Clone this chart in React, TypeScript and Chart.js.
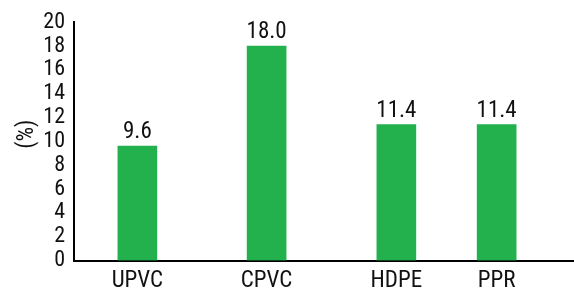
import React, { useEffect, useRef } from "react";
import { Chart, registerables } from "chart.js";

Chart.register(...registerables);

const categories = ["UPVC", "CPVC", "HDPE", "PPR"];
const values = [9.6, 18.0, 11.4, 11.4];
const valueLabels = ["9.6", "18.0", "11.4", "11.4"];
// horizontal placement of each category along the x axis (0..100)
const categoryPositions = [12.7, 38.6, 64.6, 84.7];
const yTicks = [0, 2, 4, 6, 8, 10, 12, 14, 16, 18, 20];
const yTitle = "(%)";

const FONT = "'Roboto Condensed', 'DejaVu Sans Condensed', sans-serif";
const GREEN = "#22b14c";

export default function App() {
  const ref = useRef<HTMLCanvasElement | null>(null);

  useEffect(() => {
    if (!ref.current) return;
    const labelPlugin = {
      id: "valueLabels",
      afterDatasetsDraw(chart: any) {
        const ctx = chart.ctx;
        const meta = chart.getDatasetMeta(0);
        ctx.save();
        ctx.font = `23px ${FONT}`;
        ctx.fillStyle = "#111";
        ctx.textAlign = "center";
        ctx.textBaseline = "alphabetic";
        meta.data.forEach((bar: any, i: number) => {
          ctx.fillText(valueLabels[i], bar.x, bar.y - 8);
        });
        ctx.restore();
      },
      afterDraw(chart: any) {
        const ctx = chart.ctx;
        const a = chart.chartArea;
        ctx.save();
        ctx.font = `23px ${FONT}`;
        ctx.fillStyle = "#111";
        ctx.textAlign = "center";
        ctx.textBaseline = "middle";
        ctx.translate(27, a.top + a.height * 0.47);
        ctx.rotate(-Math.PI / 2);
        ctx.fillText(yTitle, 0, 0);
        ctx.restore();
      },
    };

    const chart = new Chart(ref.current, {
      type: "bar",
      data: {
        datasets: [
          {
            data: values.map((v, i) => ({ x: categoryPositions[i], y: v })),
            backgroundColor: GREEN,
            borderWidth: 0,
            barThickness: 39,
          },
        ],
      },
      options: {
        animation: false,
        responsive: false,
        maintainAspectRatio: false,
        layout: { padding: { top: 22, right: 1, left: 0, bottom: 0 } },
        plugins: { legend: { display: false }, tooltip: { enabled: false } },
        scales: {
          x: {
            type: "linear",
            min: 0,
            max: 100,
            offset: false,
            grid: { display: false, drawTicks: false },
            border: { display: true, color: "#000", width: 2 },
            afterBuildTicks: (scale: any) => {
              scale.ticks = categoryPositions.map((p) => ({ value: p }));
            },
            afterFit: (scale: any) => {
              scale.height = 29.5;
            },
            ticks: {
              autoSkip: false,
              maxRotation: 0,
              padding: 7,
              color: "#111",
              font: { family: FONT, size: 23 },
              callback: (v: any) => {
                const idx = categoryPositions.indexOf(Number(v));
                return idx >= 0 ? categories[idx] : "";
              },
            },
          },
          y: {
            min: 0,
            max: 20,
            grid: { display: false, drawTicks: false },
            border: { display: true, color: "#000", width: 2 },
            afterBuildTicks: (scale: any) => {
              scale.ticks = yTicks.map((t) => ({ value: t }));
            },
            afterFit: (scale: any) => {
              scale.width = 74;
            },
            ticks: {
              autoSkip: false,
              padding: 9,
              color: "#111",
              font: { family: FONT, size: 22 },
            },
          },
        },
      },
      plugins: [labelPlugin],
    } as any);
    return () => chart.destroy();
  }, []);

  return (
    <div style={{ position: "fixed", left: 0, top: 0, width: 574, height: 290, background: "#fff" }}>
      <canvas ref={ref} width={574} height={290} style={{ width: 574, height: 290, display: "block" }} />
    </div>
  );
}
